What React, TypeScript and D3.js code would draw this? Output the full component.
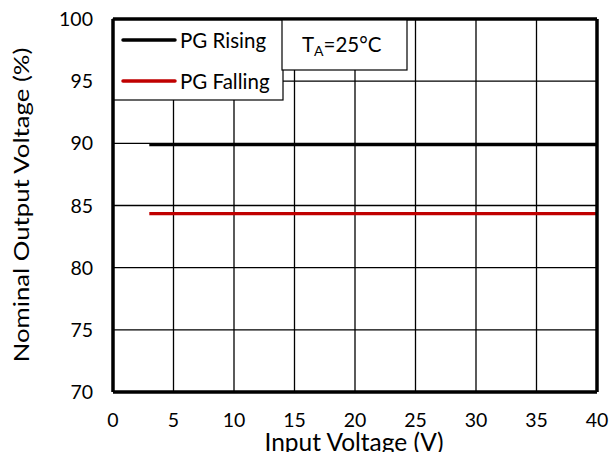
import React from "react";
import * as d3 from "d3";

const xTicks = [0, 5, 10, 15, 20, 25, 30, 35, 40];
const yTicks = [70, 75, 80, 85, 90, 95, 100];
const seriesNames = ["PG Rising", "PG Falling"];
const seriesColors = ["#000000", "#c00000"];
const inputVoltage = [3, 40];
const pgRising = [89.9, 89.9];
const pgFalling = [84.35, 84.35];

export default function App() {
  const W = 610, H = 452;
  const L = 113, R = 597, T = 19, B = 392;
  const x = d3.scaleLinear().domain([0, 40]).range([L, R]);
  const y = d3.scaleLinear().domain([70, 100]).range([B, T]);
  const line = d3.line<[number, number]>().x(d => x(d[0])).y(d => y(d[1]));
  const series = [pgRising, pgFalling];
  const font = "Lato, 'Open Sans', sans-serif";
  return (
    <svg width={W} height={H} style={{ position: "absolute", left: 0, top: 0 }} fontFamily={font}>
      <rect width={W} height={H} fill="#fff" />
      {xTicks.map(t => (
        <line key={"gx" + t} x1={x(t)} x2={x(t)} y1={T} y2={B} stroke="#000" strokeWidth={1.3} />
      ))}
      {yTicks.map(t => (
        <line key={"gy" + t} x1={L} x2={R} y1={y(t)} y2={y(t)} stroke="#000" strokeWidth={1.3} />
      ))}
      {series.map((s, i) => (
        <path key={i} d={line(inputVoltage.map((v, j) => [v, s[j]]) as [number, number][]) || ""}
          stroke={seriesColors[i]} strokeWidth={3.2} fill="none" />
      ))}
      <line x1={L} x2={R} y1={B} y2={B} stroke="#000" strokeWidth={3.5} />
      <line x1={R} x2={R} y1={T} y2={B} stroke="#000" strokeWidth={3.5} />
      {/* legend */}
      <rect x={L} y={T} width={283 - L} height={100 - T} fill="#fff" stroke="#000" strokeWidth={1.2} />
      {seriesNames.map((n, i) => (
        <g key={n}>
          <line x1={123} x2={175} y1={40 + i * 41} y2={40 + i * 41} stroke={seriesColors[i]} strokeWidth={3.5} strokeLinecap="round" />
          <text x={180} y={48 + i * 41} fontSize={20.5}>{n}</text>
        </g>
      ))}
      <line x1={L} x2={R} y1={T} y2={T} stroke="#000" strokeWidth={3.5} />
      <line x1={L} x2={L} y1={T} y2={B} stroke="#000" strokeWidth={3.5} />
      {/* TA box */}
      <rect x={282} y={T + 1} width={125} height={50} fill="#fff" stroke="#000" strokeWidth={1.2} />
      <text x={302} y={52} fontSize={20.5}>
        T<tspan fontSize={14} dy={4}>A</tspan><tspan dy={-4}>=25°C</tspan>
      </text>
      {xTicks.map(t => (
        <text key={"xl" + t} x={x(t)} y={427} fontSize={19.5} textAnchor="middle">{t}</text>
      ))}
      {yTicks.map(t => (
        <text key={"yl" + t} x={93} y={y(t) + 7} fontSize={19.5} textAnchor="end">{t}</text>
      ))}
      <text x={354} y={451} fontSize={24.5} textAnchor="middle">Input Voltage (V)</text>
      <text transform={`translate(29,205) rotate(-90) scale(1.17,1)`} fontSize={22} textAnchor="middle">Nominal Output Voltage (%)</text>
    </svg>
  );
}
